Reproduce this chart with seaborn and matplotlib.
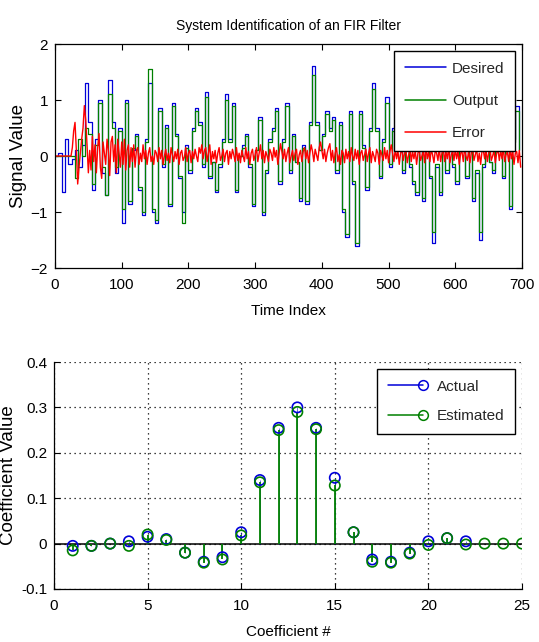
import matplotlib
matplotlib.use("Agg")
import matplotlib.pyplot as plt
from matplotlib.lines import Line2D
from matplotlib.legend_handler import HandlerLine2D
from matplotlib.ticker import FuncFormatter
import numpy as np
import pandas as pd
import seaborn as sns

# ---- adaptive-filter signals ----------------------------------------------
sig_step = 5          # desired / output are held for 5 samples
err_step = 2          # error is drawn every 2 samples

desired = [
    0.0, 0.05, -0.65, 0.3, -0.15, -0.05, 0.1, -0.2, 0.2, 1.3,
    0.6, -0.6, 0.3, 1.0, -0.3, -0.7, 1.35, 0.6, -0.3, 0.5,
    -1.2, 1.0, -0.85, 0.1, 0.4, -0.6, -1.05, 0.3, 1.3, -1.0,
    -1.2, 0.85, -0.2, 0.55, -0.9, 0.95, 0.4, -0.4, -1.0, 0.2,
    -0.3, 0.5, 0.85, 0.6, -0.2, 1.15, -0.4, -0.1, -0.65, -0.2,
    0.3, 1.1, 0.3, 0.95, -0.65, 0.0, 0.2, 0.4, -0.2, -0.9,
    0.1, 0.7, -1.05, -0.3, 0.3, 0.5, 0.85, -0.5, 0.3, 0.95,
    -0.3, 0.4, -0.1, -0.8, 0.2, -0.85, 0.6, 1.6, 0.6, 0.1,
    0.4, 0.8, 0.5, 0.7, -0.3, 0.6, -1.0, -1.45, 0.8, -0.5,
    -1.6, 0.8, 0.2, -0.6, 0.5, 1.3, 0.5, -0.4, 0.3, 1.05,
    -0.2, 0.5, 0.8, 0.2, -0.3, 0.4, -0.2, -0.5, -0.7, 0.3,
    -0.8, 0.2, -0.4, -1.55, -0.2, -0.7, 0.3, -0.3, 0.5, -0.2,
    -0.5, 0.4, 0.1, -0.4, 0.6, -0.8, -0.3, -1.5, -0.2, 0.4,
    -0.1, -0.3, 0.5, 0.2, -0.4, 0.3, -0.95, 0.3, 0.9, 0.1,
]

output = [
    0.0, 0.0, 0.0, 0.0, 0.0, 0.0, -0.4, 0.3, 0.0, 0.5,
    0.4, -0.5, 0.2, 0.95, -0.2, -0.7, 1.1, 0.5, -0.2, 0.45,
    -0.95, 0.95, -0.8, 0.15, 0.35, -0.55, -1.0, 0.25, 1.55, -0.95,
    -1.15, 0.8, -0.15, 0.5, -0.85, 0.9, 0.35, -0.35, -1.2, 0.15,
    -0.25, 0.45, 0.8, 0.55, -0.15, 1.05, -0.35, -0.1, -0.6, -0.15,
    0.25, 1.0, 0.25, 0.9, -0.6, 0.0, 0.15, 0.35, -0.15, -0.85,
    0.1, 0.65, -1.0, -0.25, 0.25, 0.45, 0.8, -0.45, 0.25, 0.9,
    -0.25, 0.35, -0.1, -0.75, 0.15, -0.8, 0.55, 1.45, 0.55, 0.1,
    0.35, 0.75, 0.45, 0.65, -0.25, 0.55, -0.95, -1.4, 0.75, -0.45,
    -1.55, 0.75, 0.15, -0.55, 0.45, 1.2, 0.45, -0.35, 0.25, 0.95,
    -0.15, 0.45, 0.75, 0.15, -0.25, 0.35, -0.15, -0.45, -0.65, 0.25,
    -0.75, 0.15, -0.35, -1.35, -0.15, -0.65, 0.25, -0.25, 0.45, -0.15,
    -0.45, 0.35, 0.1, -0.35, 0.55, -0.75, -0.25, -1.35, -0.15, 0.35,
    -0.1, -0.25, 0.45, 0.15, -0.35, 0.25, -0.9, 0.25, 0.8, 0.1,
]

error = [
    0, 0, 0, 0, 0, 0, 0, 0, 0, 0,
    0, 0, 0, 0.15, 0.45, 0.6, 0.1, -0.5, -0.2, 0.05,
    0.3, 0.5, 0.9, 0.65, 0.2, -0.3, 0.1, -0.25, 0.35, -0.1,
    0.2, -0.3, 0.15, 0.4, -0.2, -0.4, 0.25, 0.05, -0.15, 0.3,
    0.1, -0.35, 0.25, 0.35, -0.1, 0.2, -0.3, 0.3, 0.05, -0.2,
    0.25, -0.15, 0.3, -0.25, 0.1, 0.2, -0.2, 0.15, -0.1, 0.2,
    -0.2, 0.1, 0.15, -0.15, 0.05, -0.1, 0.2, -0.05, 0.1, -0.15,
    0.05, 0.15, -0.1, 0.0, -0.15, 0.1, 0.05, -0.1, 0.15, -0.05,
    0.1, -0.15, 0.0, 0.12, -0.08, 0.05, -0.12, 0.15, 0.02, -0.1,
    0.08, -0.05, 0.12, -0.15, 0.05, 0.1, -0.08, -0.02, 0.15, -0.1,
    0.05, 0.1, -0.12, 0.08, -0.05, 0.12, 0.0, -0.1, 0.15, 0.05,
    0.2, -0.05, 0.1, 0.15, -0.1, 0.05, 0.2, -0.15, 0.08, -0.05,
    0.1, -0.12, 0.05, 0.15, -0.08, 0.0, 0.12, -0.1, 0.05, 0.1,
    -0.15, 0.08, -0.05, 0.12, 0.02, -0.1, 0.15, -0.08, 0.05, -0.12,
    0.1, 0.0, -0.1, 0.15, -0.05, 0.08, -0.15, 0.05, 0.12, -0.08,
    0.02, 0.15, -0.1, 0.05, 0.2, -0.05, 0.1, -0.12, 0.08, 0.0,
    -0.1, 0.12, 0.05, -0.08, 0.15, -0.02, 0.1, -0.15, 0.05, 0.22,
    0.08, -0.05, 0.12, -0.1, 0.05, 0.15, -0.12, 0.0, 0.1, -0.08,
    0.05, 0.12, -0.15, 0.02, 0.1, -0.1, 0.08, 0.15, -0.05, 0.1,
    -0.12, 0.05, 0.2, 0.08, -0.1, 0.12, 0.02, -0.08, 0.15, 0.25,
    0.1, -0.05, 0.12, -0.1, 0.05, 0.15, 0.22, -0.08, 0.1, -0.12,
    0.05, 0.15, -0.1, 0.02, -0.15, 0.1, 0.05, -0.12, 0.12, -0.05,
    0.08, -0.1, 0.15, 0.0, -0.08, 0.12, -0.05, 0.1, -0.15, 0.05,
    0.1, -0.08, 0.02, 0.12, -0.1, 0.05, 0.15, -0.12, 0.08, 0.0,
    -0.1, 0.12, 0.05, -0.15, 0.1, 0.02, -0.08, 0.15, -0.05, 0.1,
    -0.12, 0.08, 0.2, 0.05, -0.1, 0.12, -0.05, 0.1, -0.15, 0.05,
    0.12, -0.08, 0.05, 0.1, -0.12, 0.02, 0.15, -0.1, 0.08, -0.05,
    0.1, -0.15, 0.05, 0.12, -0.08, 0.0, 0.1, -0.12, 0.15, -0.05,
    0.08, -0.1, 0.12, 0.02, -0.12, 0.1, 0.05, -0.08, 0.15, -0.1,
    0.05, 0.12, -0.1, 0.08, -0.05, 0.15, -0.12, 0.02, 0.1, -0.08,
    0.12, -0.05, 0.1, -0.15, 0.05, 0.08, -0.1, 0.15, 0.0, -0.08,
    0.1, -0.12, 0.05, 0.15, -0.08, 0.02, 0.12, -0.1, 0.05, -0.15,
    0.08, 0.1, -0.05, 0.12, -0.1, 0.05, 0.15, -0.08, 0.0, 0.1,
    -0.12, 0.05, 0.12, -0.08, 0.1, -0.05, 0.15, -0.1, 0.02, 0.08,
    -0.1, 0.12, -0.05, 0.1, -0.15, 0.05, 0.08, -0.12, 0.1, -0.2,
]

signal_labels = ["Desired", "Output", "Error"]

# ---- FIR coefficients ------------------------------------------------------
actual_coef = [-0.005, -0.005, 0.0, 0.005, 0.015, 0.01, -0.02, -0.04, -0.03,
               0.025, 0.14, 0.255, 0.30, 0.255, 0.145, 0.025, -0.035, -0.04,
               -0.02, 0.005, 0.012, 0.005]
estimated_coef = [-0.015, -0.005, 0.0, -0.005, 0.02, 0.008, -0.02, -0.042,
                  -0.035, 0.018, 0.135, 0.25, 0.29, 0.252, 0.128, 0.025,
                  -0.04, -0.042, -0.022, -0.003, 0.012, -0.002, 0.0, 0.0, 0.0]
coef_labels = ["Actual", "Estimated"]

# ---- style -----------------------------------------------------------------
sns.set_theme(style="white")
FONT = ["Liberation Sans", "DejaVu Sans"]
plt.rcParams["font.family"] = FONT
plt.rcParams["axes.edgecolor"] = "black"
plt.rcParams["axes.linewidth"] = 0.9

BLUE = (0.0, 0.0, 0.85)
GREEN = (0.0, 0.5, 0.0)
RED = (1.0, 0.0, 0.0)
TICK_FS = 11
LABEL_FS = 11

W, H = 539, 642
fig = plt.figure(figsize=(W / 100, H / 100), dpi=100, facecolor="white")


def px_axes(left, top, right, bottom):
    return fig.add_axes([left / W, 1 - bottom / H, (right - left) / W, (bottom - top) / H])


def style_ticks(ax, box):
    ax.tick_params(direction="in", length=4, width=0.8, labelsize=TICK_FS,
                   colors="black", top=box, right=box, bottom=True, left=True)
    ax.tick_params(axis="x", pad=7)
    ax.tick_params(axis="y", pad=5)


class EndMarkerHandler(HandlerLine2D):
    """Legend entry with the marker sitting at the right end of the line."""

    def create_artists(self, legend, orig_handle, xdescent, ydescent,
                       width, height, fontsize, trans):
        artists = super().create_artists(legend, orig_handle, xdescent, ydescent,
                                         width, height, fontsize, trans)
        line = artists[0]
        line.set_markevery([len(line.get_xdata()) - 1])
        return artists


# ---- top panel ---------------------------------------------------------------
ax1 = px_axes(55, 44, 522, 268)
t_sig = np.arange(len(desired)) * sig_step
t_err = np.arange(len(error)) * err_step
sig_df = pd.DataFrame({"t": t_sig, "desired": desired, "output": output})
err_df = pd.DataFrame({"t": t_err, "error": error})

sns.lineplot(data=sig_df, x="t", y="desired", ax=ax1, color=BLUE, lw=0.9,
             estimator=None, drawstyle="steps-post")
sns.lineplot(data=sig_df, x="t", y="output", ax=ax1, color=GREEN, lw=0.9,
             estimator=None, drawstyle="steps-post")
sns.lineplot(data=err_df, x="t", y="error", ax=ax1, color=RED, lw=1.0,
             estimator=None)

ax1.set_xlim(0, 700)
ax1.set_ylim(-2, 2)
ax1.set_xticks(range(0, 701, 100))
ax1.set_yticks([-2, -1, 0, 1, 2])
style_ticks(ax1, True)
ax1.set_title("System Identification of an FIR Filter", fontsize=10,
              color="black", pad=10)
ax1.set_xlabel("Time Index", fontsize=LABEL_FS, color="black", labelpad=9)
ax1.set_ylabel("Signal Value", fontsize=13.5, color="black", labelpad=3)

h1 = [Line2D([], [], color=c, lw=1.1) for c in (BLUE, GREEN, RED)]
leg1 = ax1.legend(h1, signal_labels, loc="upper right", fontsize=11,
                  frameon=True, fancybox=False, edgecolor="black", framealpha=1,
                  handlelength=2.7, handletextpad=0.4, labelspacing=1.2,
                  borderpad=0.7, borderaxespad=0.45)
leg1.get_frame().set_linewidth(1.0)

# ---- bottom panel ------------------------------------------------------------
ax2 = px_axes(54, 362, 522, 589)
n_act = np.arange(1, len(actual_coef) + 1)
n_est = np.arange(1, len(estimated_coef) + 1)

ax2.axhline(0, color="black", lw=1.1, zorder=2)
ax2.vlines(n_act, 0, actual_coef, color=BLUE, lw=0.4, zorder=3)
ax2.vlines(n_est, 0, estimated_coef, color=GREEN, lw=1.3, zorder=3.5)

coef_df = pd.DataFrame({"n": np.concatenate([n_act, n_est]),
                        "value": actual_coef + estimated_coef,
                        "which": [coef_labels[0]] * len(n_act) + [coef_labels[1]] * len(n_est)})
sns.scatterplot(data=coef_df, x="n", y="value", hue="which",
                palette={coef_labels[0]: BLUE, coef_labels[1]: GREEN},
                ax=ax2, s=55, marker="o", linewidth=1.2,
                legend=False, zorder=4)
# open circles: hue colour goes to the edge, faces stay empty
coll = ax2.collections[-1]
coll.set_edgecolors(coll.get_facecolors())
coll.set_facecolors("none")

ax2.set_xlim(0, 25)
ax2.set_ylim(-0.1, 0.4)
ax2.set_xticks(range(0, 26, 5))
ax2.set_yticks([-0.1, 0, 0.1, 0.2, 0.3, 0.4])
ax2.yaxis.set_major_formatter(FuncFormatter(lambda v, _: "0" if abs(v) < 1e-9 else f"{v:.1f}"))
ax2.grid(True, linestyle=(0, (1, 3)), color="black", lw=0.9)
for side in ("top", "right"):
    ax2.spines[side].set_visible(False)
style_ticks(ax2, False)
ax2.set_xlabel("Coefficient #", fontsize=LABEL_FS, color="black", labelpad=9)
ax2.set_ylabel("Coefficient Value", fontsize=13.5, color="black", labelpad=3)

h2 = [Line2D([0, 1], [0, 0], color=c, lw=1.1, marker="o", markersize=7,
             markerfacecolor="none", markeredgecolor=c, markeredgewidth=1.1)
      for c in (BLUE, GREEN)]
leg2 = ax2.legend(h2, coef_labels, loc="upper right", fontsize=11, numpoints=1,
                  handler_map={Line2D: EndMarkerHandler()},
                  frameon=True, fancybox=False, edgecolor="black", framealpha=1,
                  handlelength=2.3, handletextpad=0.9, labelspacing=1.0,
                  borderpad=0.7, borderaxespad=0.45)
leg2.get_frame().set_linewidth(1.0)

fig.savefig("out.png", dpi=100, facecolor="white")
